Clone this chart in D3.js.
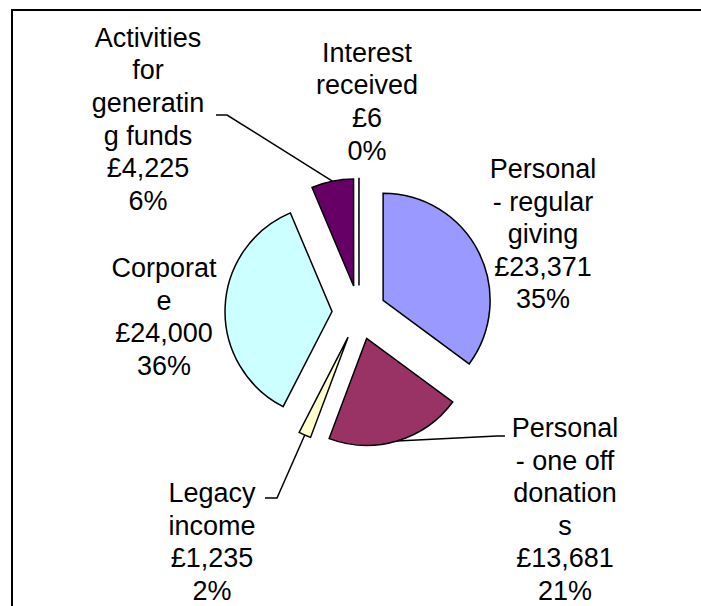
<!DOCTYPE html>
<html>
<head>
<meta charset="utf-8">
<script src="https://cdn.jsdelivr.net/npm/d3@7"></script>
<style>
  html, body { margin: 0; padding: 0; background: #fff; }
  svg { display: block; }
  text { font-family: "Liberation Sans", Arial, sans-serif; font-size: 27px; fill: #000; }
</style>
</head>
<body>
<svg id="chart" width="701" height="606"></svg>
<script>
// ---- data ----
const categories = [
  "Personal - regular giving",
  "Personal - one off donations",
  "Legacy income",
  "Corporate",
  "Activities for generating funds",
  "Interest received"
];
const values = [23371, 13681, 1235, 24000, 4225, 6];
const colors = ["#9999FF", "#993366", "#FFFFCC", "#CCFFFF", "#660066", "#FF8080"];
// category names as wrapped in the original labels
const nameLines = [
  ["Personal", "- regular", "giving"],
  ["Personal", "- one off", "donation", "s"],
  ["Legacy", "income"],
  ["Corporat", "e"],
  ["Activities", "for", "generatin", "g funds"],
  ["Interest", "received"]
];

// ---- layout ----
const cx = 359, cy = 312.5, radius = 107, explode = 27;
const lineGap = 32.6;
const labelPos = [
  { x: 543, y: 178 },
  { x: 565, y: 437 },
  { x: 212, y: 502 },
  { x: 164, y: 277 },
  { x: 148, y: 46.7 },
  { x: 367, y: 61.7 }
];
// leader lines: [elbow, end] (null when no leader)
const leaders = [
  null,
  [[497, 436], [505, 436]],
  [[277, 498], [265, 498]],
  null,
  [[227, 115], [216, 115]],
  null
];

const svg = d3.select("#chart");

// frame
svg.append("rect")
  .attr("x", 12).attr("y", 10)
  .attr("width", 720).attr("height", 620)
  .attr("fill", "none").attr("stroke", "#000").attr("stroke-width", 2);

const total = d3.sum(values);
const pie = d3.pie().sort(null).value(d => d)(values);
const arc = d3.arc().innerRadius(0).outerRadius(radius);

const g = svg.append("g").attr("transform", `translate(${cx},${cy})`);

function offset(d, dist) {
  const a = (d.startAngle + d.endAngle) / 2;
  return [Math.sin(a) * dist, -Math.cos(a) * dist];
}

g.selectAll("path.slice")
  .data(pie)
  .join("path")
  .attr("class", "slice")
  .attr("transform", d => { const o = offset(d, explode); return `translate(${o[0]},${o[1]})`; })
  .attr("d", arc)
  .attr("fill", (d, i) => colors[i])
  .attr("stroke", "#000")
  .attr("stroke-width", 1.5)
  .attr("stroke-linejoin", "miter");

// leader lines
pie.forEach((d, i) => {
  if (!leaders[i]) return;
  const o = offset(d, explode + radius);
  const p0 = [cx + o[0], cy + o[1]];
  const pts = [p0, leaders[i][0], leaders[i][1]];
  svg.append("path")
    .attr("d", d3.line()(pts))
    .attr("fill", "none")
    .attr("stroke", "#000")
    .attr("stroke-width", 1.5);
});

// labels
const fmtMoney = v => "£" + d3.format(",")(v);
const fmtPct = v => Math.round(v / total * 100) + "%";

categories.forEach((c, i) => {
  const lines = nameLines[i].concat([fmtMoney(values[i]), fmtPct(values[i])]);
  const t = svg.append("text")
    .attr("text-anchor", "middle")
    .attr("x", labelPos[i].x)
    .attr("y", labelPos[i].y);
  lines.forEach((ln, k) => {
    t.append("tspan")
      .attr("x", labelPos[i].x)
      .attr("y", labelPos[i].y + k * lineGap)
      .text(ln);
  });
});
</script>
</body>
</html>
